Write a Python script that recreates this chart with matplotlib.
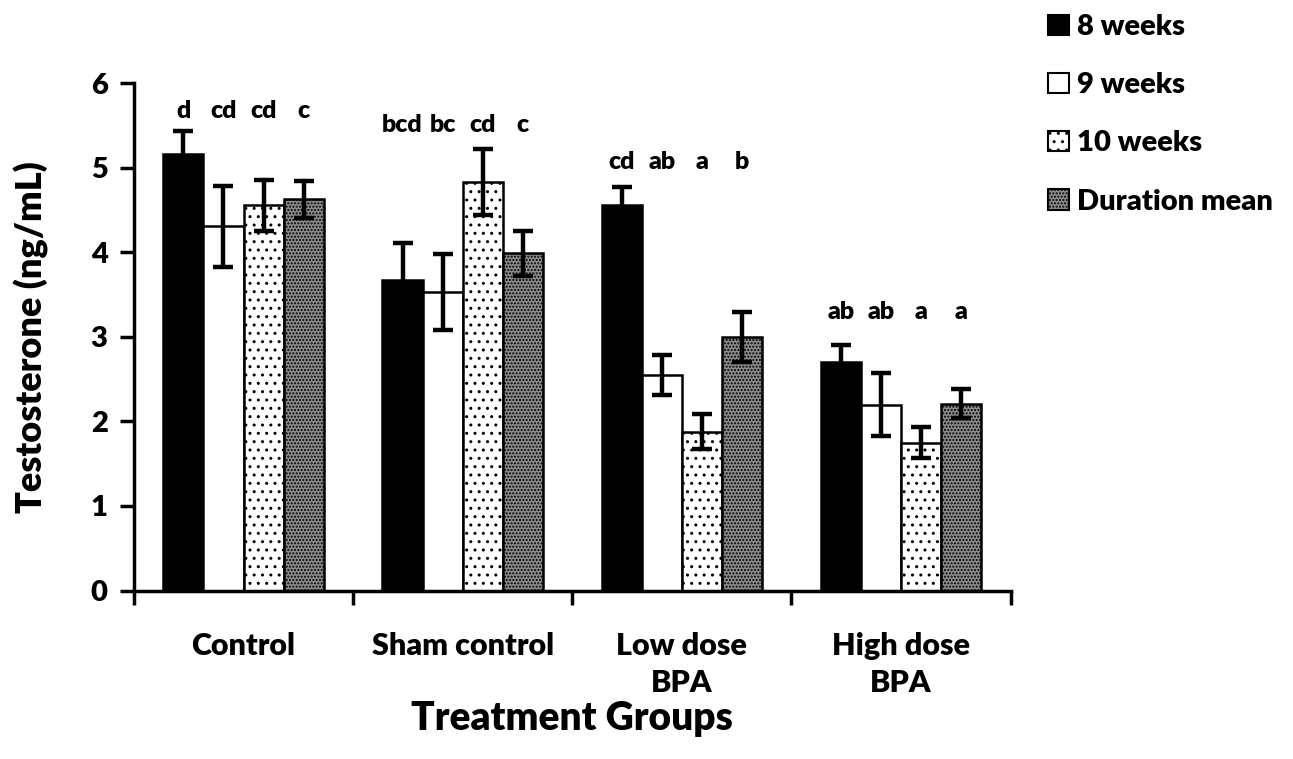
import numpy as np
import matplotlib
matplotlib.use("Agg")
import matplotlib.pyplot as plt
from matplotlib.patches import Patch

plt.rcParams['font.family'] = ['Lato', 'DejaVu Sans']
plt.rcParams['font.weight'] = 'heavy'
plt.rcParams['hatch.linewidth'] = 1.0

groups = ["Control", "Sham control", "Low dose\nBPA", "High dose\nBPA"]
series = ["8 weeks", "9 weeks", "10 weeks", "Duration mean"]

wk8 = [5.17, 3.67, 4.56, 2.70]
wk9 = [4.31, 3.53, 2.55, 2.20]
wk10 = [4.56, 4.83, 1.88, 1.75]
dur_mean = [4.63, 3.99, 3.00, 2.21]

err8 = [0.27, 0.44, 0.21, 0.20]
err9 = [0.48, 0.45, 0.24, 0.37]
err10 = [0.30, 0.39, 0.21, 0.18]
err_mean = [0.22, 0.27, 0.29, 0.17]

letters8 = ["d", "bcd", "cd", "ab"]
letters9 = ["cd", "bc", "ab", "ab"]
letters10 = ["cd", "cd", "a", "a"]
letters_mean = ["c", "c", "b", "a"]
letter_height = [5.68, 5.51, 5.07, 3.30]

values = [wk8, wk9, wk10, dur_mean]
errors = [err8, err9, err10, err_mean]
letters = [letters8, letters9, letters10, letters_mean]

styles = [
    dict(facecolor="black", hatch=None),
    dict(facecolor="white", hatch=None),
    dict(facecolor="white", hatch=".."),
    dict(facecolor="#8c8c8c", hatch="....."),
]

fig = plt.figure(figsize=(12.93, 7.59), dpi=100)
ax = fig.add_axes([0.1036, 0.222, 0.678, 0.668])

x = np.arange(len(groups))
width = 0.183
for i in range(4):
    pos = x + (i - 1.5) * width
    ax.bar(pos, values[i], width, color=styles[i]["facecolor"], hatch=styles[i]["hatch"],
           edgecolor="black", linewidth=1.8, zorder=2)
    ax.errorbar(pos, values[i], yerr=errors[i], fmt="none", ecolor="black",
                elinewidth=3.2, capsize=7, capthick=3.2, zorder=3)
    for j in range(len(groups)):
        ax.text(pos[j], letter_height[j], letters[i][j], ha="center", va="center",
                fontsize=18, fontweight="heavy")

ax.set_xlim(-0.5, len(groups) - 0.5)
ax.set_ylim(0, 6)
ax.set_yticks(range(0, 7))
ax.set_xticks(np.arange(-0.5, len(groups), 1.0))
ax.set_xticklabels([])
ax.set_xticks(x, minor=True)
ax.set_xticklabels(groups, minor=True, fontsize=22, fontweight="heavy", linespacing=1.4)
ax.tick_params(axis="x", which="minor", length=0, pad=30)
ax.tick_params(axis="x", which="major", length=10, width=2.5, direction="out")
ax.tick_params(axis="y", length=10, width=2.5, direction="out", labelsize=21, pad=9)
for lab in ax.get_yticklabels():
    lab.set_fontweight("heavy")

ax.spines["top"].set_visible(False)
ax.spines["right"].set_visible(False)
ax.spines["left"].set_linewidth(2.5)
ax.spines["bottom"].set_linewidth(2.5)

ax.set_ylabel("Testosterone (ng/mL)", fontsize=26, fontweight="heavy", labelpad=30)
ax.set_xlabel("Treatment Groups", fontsize=28, fontweight="heavy", labelpad=2)

handles = [Patch(facecolor=s["facecolor"], hatch=s["hatch"], edgecolor="black", linewidth=1.5)
           for s in styles]
fig.legend(handles, series, loc="upper left", bbox_to_anchor=(1022 / 1293, 1 + 12 / 759),
           frameon=False, handlelength=0.7, handleheight=0.7, handletextpad=0.3,
           labelspacing=1.1, prop={"size": 21, "weight": "heavy"})

fig.savefig("out.png", dpi=100)
